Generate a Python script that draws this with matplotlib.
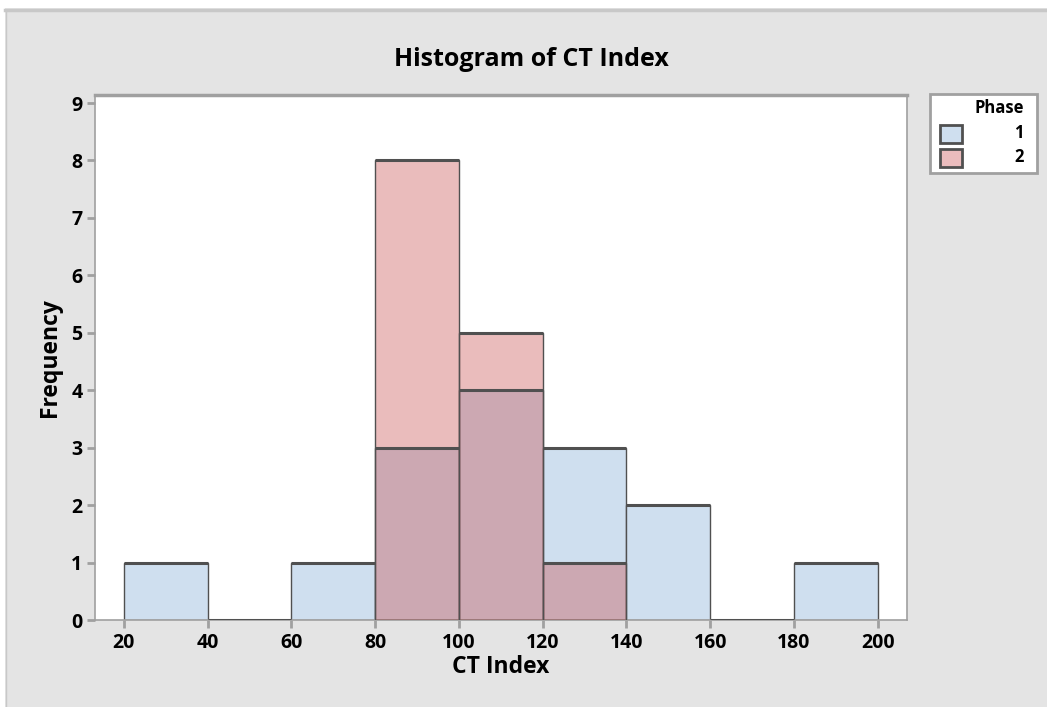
import numpy as np
import matplotlib.pyplot as plt
from matplotlib import font_manager as fm
from matplotlib.patches import Rectangle
from matplotlib.lines import Line2D

# bin edges and counts
edges = [20, 40, 60, 80, 100, 120, 140, 160, 180, 200]
phase1 = [1, 0, 1, 3, 4, 3, 2, 0, 1]
phase2 = [0, 0, 0, 8, 5, 1, 0, 0, 0]
xticks = [20, 40, 60, 80, 100, 120, 140, 160, 180, 200]
yticks = list(range(10))
legend_labels = ['1', '2']

plt.rcParams['font.family'] = ['Open Sans', 'DejaVu Sans']

def fp(size):
    return fm.FontProperties(family='Open Sans', weight='bold', size=size)

blue = '#cfdfef'
pink_solid = '#ebbcbd'
pink = (0.79, 0.30, 0.31, 0.375)
edge = '#505050'
W, H = 1047, 707

def fx(x):
    return x / W
def fy(y):
    return 1 - y / H

fig = plt.figure(figsize=(W / 100, H / 100), dpi=100)
fig.patch.set_facecolor('white')
fig.patches.append(Rectangle((fx(5), 0), 1, fy(8), transform=fig.transFigure,
                             facecolor='#e4e4e4', edgecolor='none', zorder=-10))
fig.lines.append(Line2D([fx(5), 1], [fy(9.5), fy(9.5)], transform=fig.transFigure,
                        color='#c8c8c8', lw=2.5))
fig.lines.append(Line2D([fx(5.5), fx(5.5)], [0, fy(9.5)], transform=fig.transFigure,
                        color='#c8c8c8', lw=1))

ax = fig.add_axes([fx(95), fy(620), (907 - 95) / W, (620 - 95) / H])
ax.set_facecolor('white')

left = np.array(edges[:-1])
w = np.diff(edges)
ax.bar(left, phase1, width=w, align='edge', color=blue, edgecolor=edge, lw=1, zorder=2)
ax.hlines(phase1, left, left + w, color=edge, lw=2.2, zorder=4)
p2 = np.array(phase2)
m2 = p2 > 0
ax.bar(left[m2], p2[m2], width=w[m2], align='edge', color=pink,
       edgecolor=edge, lw=1, zorder=3)
ax.hlines(p2[m2], left[m2], left[m2] + w[m2], color=edge, lw=2.2, zorder=4)

ax.set_xlim(13.1, 207)
ax.set_ylim(0, 9.14)
ax.set_xticks(xticks)
ax.set_yticks(yticks)
ax.tick_params(axis='both', direction='out', length=6, width=2, color='#a0a0a0', pad=3)
for lab in ax.get_xticklabels() + ax.get_yticklabels():
    lab.set_fontproperties(fp(14))
for s in ['left', 'right', 'bottom']:
    ax.spines[s].set_color('#a0a0a0')
    ax.spines[s].set_linewidth(1.2)
ax.spines['top'].set_color('#a0a0a0')
ax.spines['top'].set_linewidth(2.5)

ax.set_xlabel('CT Index', fontproperties=fp(16.5), labelpad=2)
ax.set_ylabel('Frequency', fontproperties=fp(16.5), labelpad=7)
fig.text(fx(531), fy(60), 'Histogram of CT Index', fontproperties=fp(18),
         ha='center', va='center')

# legend box drawn by hand (right-aligned labels like the original)
fig.patches.append(Rectangle((fx(930), fy(173)), (1037 - 930) / W, (173 - 94) / H,
                             transform=fig.transFigure, facecolor='white',
                             edgecolor='#a0a0a0', lw=2))
fig.text(fx(1024), fy(108), 'Phase', fontproperties=fp(12), ha='right', va='center')
for i, (lab, col) in enumerate(zip(legend_labels, [blue, pink_solid])):
    y0 = 125 + i * 24
    fig.patches.append(Rectangle((fx(940), fy(y0 + 18)), 22 / W, 18 / H,
                                 transform=fig.transFigure, facecolor=col,
                                 edgecolor=edge, lw=2))
    fig.text(fx(1024), fy(y0 + 8), lab, fontproperties=fp(12), ha='right', va='center')

fig.savefig('out.png', dpi=100)
